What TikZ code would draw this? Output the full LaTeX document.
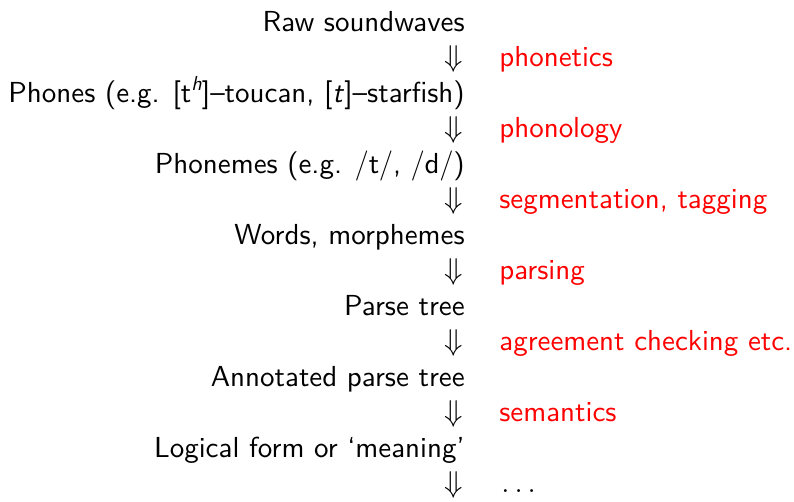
\documentclass[tikz,border=0pt]{standalone}
\usepackage{fontspec}
\setsansfont{lmsans10-regular.otf}[ItalicFont=lmsans10-oblique.otf,BoldFont=lmsans10-bold.otf]
\newcommand{\supit}[1]{\raisebox{0.42em}{\fontsize{11.6pt}{12pt}\selectfont\textit{#1}}}
\begin{document}
\begin{tikzpicture}[x=0.5731pt,y=-0.5731pt,
  every node/.style={inner sep=0pt,font=\sffamily\fontsize{16.6pt}{20pt}\selectfont},
  stage/.style={anchor=base east},
  arr/.style={anchor=base east},
  lbl/.style={anchor=base west,text={rgb,255:red,255;green,0;blue,0}}]
\useasboundingbox (0,0) rectangle (794,502);
\node[stage] (s0) at (465,31.5) {Raw soundwaves};
\node[arr] (a0) at (463,67) {$\Downarrow$};
\node[lbl] (l0) at (499,67) {phonetics};
\node[stage] (s1) at (465,102.5) {Phones (e.g. [t\supit{h}]--toucan, [\textit{t}]--starfish)};
\node[arr] (a1) at (463,138) {$\Downarrow$};
\node[lbl] (l1) at (499,138) {phonology};
\node[stage] (s2) at (465,173.5) {Phonemes (e.g. $/$t$/$, $/$d$/$)};
\node[arr] (a2) at (463,209) {$\Downarrow$};
\node[lbl] (l2) at (499,209) {segmentation, tagging};
\node[stage] (s3) at (465,244.5) {Words, morphemes};
\node[arr] (a3) at (463,280) {$\Downarrow$};
\node[lbl] (l3) at (499,280) {parsing};
\node[stage] (s4) at (465,315.5) {Parse tree};
\node[arr] (a4) at (463,351) {$\Downarrow$};
\node[lbl] (l4) at (499,351) {agreement checking etc.};
\node[stage] (s5) at (465,386.5) {Annotated parse tree};
\node[arr] (a5) at (463,422) {$\Downarrow$};
\node[lbl] (l5) at (499,422) {semantics};
\node[stage] (s6) at (465,457.5) {Logical form or `meaning'};
\node[arr] (a6) at (463,493) {$\Downarrow$};
\node[anchor=base west] (l6) at (501,493) {$\ldots$};
\end{tikzpicture}
\end{document}
